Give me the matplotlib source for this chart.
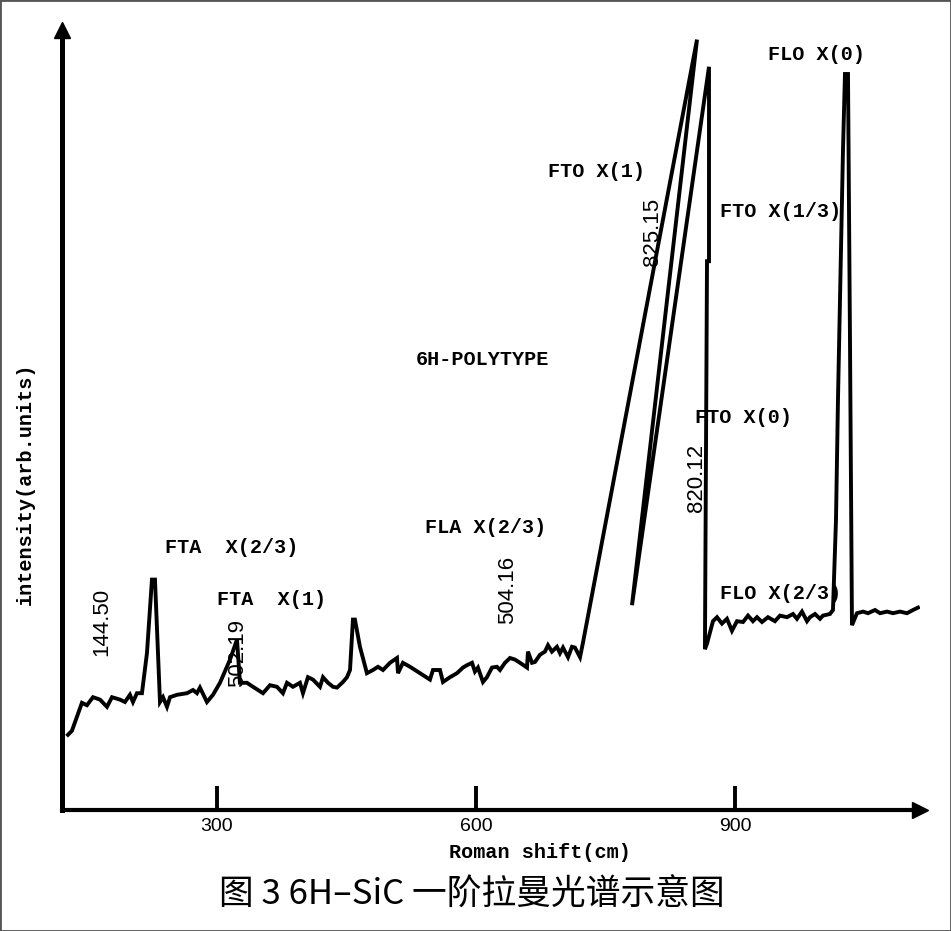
import matplotlib
matplotlib.use("Agg")
import matplotlib.pyplot as plt
from matplotlib.patches import Rectangle

# Raman shift (cm^-1) and intensity (arb. units)
shift = [127.4, 132.0, 143.6, 149.4, 156.4, 164.5, 172.6, 178.4, 187.6, 193.4,
         199.2, 202.7, 207.3, 213.1, 218.9, 224.7, 228.2, 231.7, 234.0, 237.5,
         242.1, 245.6, 253.7, 265.3, 272.2, 276.8, 280.3, 288.4, 295.4, 303.5,
         315.1, 323.2, 326.6, 334.7, 341.7, 353.3, 361.4, 369.5, 376.4, 381.1,
         388.0, 396.1, 399.6, 405.4, 411.2, 419.3, 422.8, 428.6, 434.4, 439.0,
         445.9, 450.6, 454.1, 457.5, 459.8, 465.6, 473.7, 480.7, 486.5, 492.3,
         500.4, 508.5, 509.7, 515.4, 523.6, 535.1, 546.7, 550.2, 558.3, 561.8,
         569.9, 578.0, 584.9, 589.6, 595.4, 598.8, 602.3, 608.1, 612.7, 618.5,
         624.3, 627.8, 633.6, 639.4, 645.2, 651.0, 659.1, 660.2, 664.9, 668.3,
         674.1, 679.9, 683.4, 688.0, 693.8, 697.3, 700.8, 706.6, 711.2, 714.7,
         720.5, 723.9, 856.0, 780.7, 869.9, 869.9, 867.6, 865.2, 867.6, 874.5,
         879.2, 884.9, 890.7, 896.5, 902.3, 909.3, 915.1, 920.8, 925.5, 931.3,
         938.2, 946.3, 952.1, 960.2, 967.2, 971.8, 977.6, 983.4, 986.9, 992.7,
         998.5, 1001.9, 1010.0, 1013.5, 1017.0, 1019.3, 1021.6, 1025.1, 1027.4, 1030.9,
         1033.2, 1035.5, 1041.3, 1048.3, 1054.1, 1062.2, 1068.0, 1076.1, 1083.0, 1091.1,
         1099.2, 1106.2, 1112.0]
intensity = [9.4, 9.9, 13.4, 13.1, 14.1, 13.8, 12.9, 14.1, 13.8, 13.5,
             14.4, 13.5, 14.6, 14.6, 19.6, 28.8, 28.8, 19.6, 13.5, 14.1,
             12.9, 14.1, 14.4, 14.6, 15.0, 14.6, 15.3, 13.5, 14.4, 15.9,
             18.8, 21.3, 15.9, 15.9, 15.4, 14.6, 15.6, 15.4, 14.6, 15.9,
             15.4, 15.9, 14.6, 16.6, 16.3, 15.4, 16.6, 15.9, 15.4, 15.3,
             16.0, 16.6, 17.5, 23.8, 23.8, 20.4, 17.1, 17.5, 17.9, 17.5,
             18.4, 19.0, 17.1, 18.4, 17.9, 17.1, 16.3, 17.5, 17.5, 16.0,
             16.6, 17.1, 17.8, 18.1, 18.4, 17.3, 17.8, 16.0, 16.6, 17.8,
             17.9, 17.5, 18.4, 19.0, 18.8, 18.4, 17.8, 19.8, 18.4, 18.5,
             19.4, 19.8, 20.6, 19.8, 20.4, 19.6, 20.3, 19.1, 20.4, 20.3,
             19.1, 20.9, 96.3, 25.6, 92.9, 68.6, 68.6, 20.1, 20.8, 23.6,
             24.1, 23.3, 23.9, 22.4, 23.6, 23.5, 24.3, 23.6, 24.1, 23.5,
             24.1, 23.6, 24.3, 24.1, 24.5, 23.9, 24.8, 23.6, 24.1, 24.5,
             23.9, 24.3, 24.5, 25.0, 36.3, 51.3, 63.8, 82.5, 92.0, 92.0,
             58.8, 23.1, 24.6, 24.8, 24.6, 25.0, 24.6, 24.8, 24.6, 24.8,
             24.6, 25.0, 25.3]

xticks = [300, 600, 900]

# mode labels: text, x, y
mode_labels = [
    ("FTA  X(2/3)", 239.8, 32.8),
    ("FTA  X(1)", 300.0, 26.3),
    ("FLA X(2/3)", 540.9, 35.3),
    ("6H-POLYTYPE", 530.5, 56.3),
    ("FTO X(1)", 683.4, 79.8),
    ("FTO X(1/3)", 882.6, 74.8),
    ("FLO X(0)", 938.2, 94.4),
    ("FTO X(0)", 853.7, 49.0),
    ("FLO X(2/3)", 882.6, 27.1),
]
# peak positions written vertically
peak_labels = [
    ("144.50", 166.8, 23.5),
    ("502.19", 324.3, 19.6),
    ("504.16", 637.1, 27.5),
    ("825.15", 803.9, 72.3),
    ("820.12", 856.0, 41.5),
]

mono = ["Liberation Mono", "DejaVu Sans Mono"]
sans = ["Liberation Sans", "DejaVu Sans"]

fig = plt.figure(figsize=(9.51, 9.31), dpi=100)
ax = fig.add_axes([0.06519, 0.12997, 0.90221, 0.83781])

ax.plot(shift, intensity, color="black", lw=2.8, solid_joinstyle="miter", zorder=3)

ax.set_xlim(120.5, 1114.3)
ax.set_ylim(0, 97.5)

ax.spines["top"].set_visible(False)
ax.spines["right"].set_visible(False)
ax.spines["left"].set_linewidth(3.6)
ax.spines["bottom"].set_linewidth(3.0)
ax.plot(1, 0, ">k", ms=12, transform=ax.transAxes, clip_on=False)
ax.plot(0, 1, "^k", ms=11, transform=ax.transAxes, clip_on=False)

ax.set_yticks([])
ax.set_xticks(xticks)
ax.set_xticklabels([str(t) for t in xticks], family=sans, fontsize=14)
ax.tick_params(axis="x", direction="in", length=17, width=2.8, pad=6)

for txt, x, y in mode_labels:
    ax.text(x, y, txt, family=mono, fontweight="bold", fontsize=14.5,
            ha="left", va="center", zorder=2)
for txt, x, y in peak_labels:
    ax.text(x, y, txt, family=sans, fontsize=16, rotation=90,
            ha="center", va="center", zorder=2)

fig.text(540 / 951, 1 - 853 / 931, "Roman shift(cm)", family=mono,
         fontweight="bold", fontsize=14.5, ha="center", va="center")
fig.text(25 / 951, 1 - 484 / 931, "intensity(arb.units)", family=mono,
         fontweight="bold", fontsize=14.5, rotation=90, ha="center", va="center")
fig.text(472 / 951, 1 - 895 / 931, "图 3 6H–SiC 一阶拉曼光谱示意图",
         family=["Noto Sans CJK SC", "DejaVu Sans"], fontsize=25,
         ha="center", va="center")

fig.add_artist(Rectangle((0, 0), 1, 1, transform=fig.transFigure, fill=False,
                         edgecolor="#555555", lw=2))

fig.savefig("out.png", dpi=100)
